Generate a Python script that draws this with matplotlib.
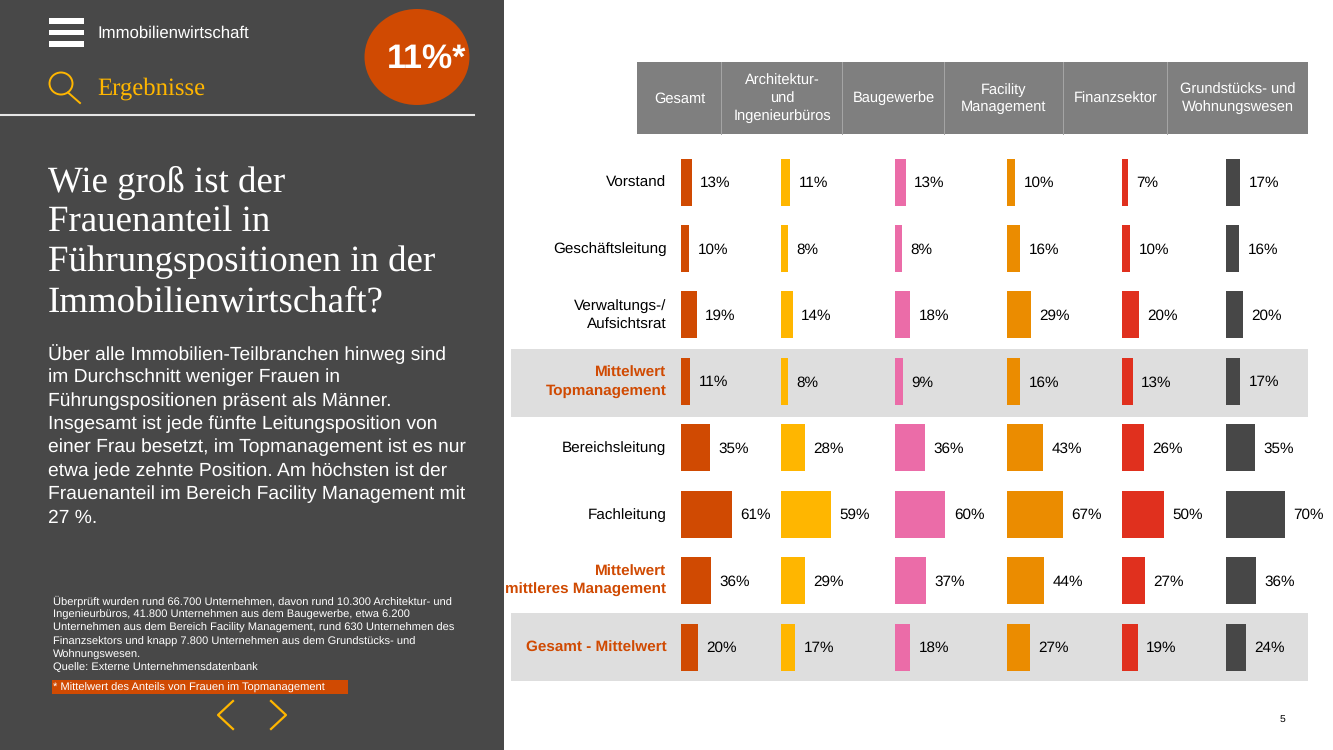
import matplotlib
matplotlib.use("Agg")
import matplotlib.pyplot as plt
from matplotlib.patches import Ellipse, Rectangle

plt.rcParams["font.family"] = ["Liberation Sans", "DejaVu Sans"]
plt.rcParams["text.hinting"] = "none"

W, H = 1333, 750

columns = ["Gesamt", "Architektur-\nund\nIngenieurbüros", "Baugewerbe",
           "Facility\nManagement", "Finanzsektor", "Grundstücks- und\nWohnungswesen"]
rows = ["Vorstand", "Geschäftsleitung", "Verwaltungs-/\nAufsichtsrat", "Mittelwert\nTopmanagement",
        "Bereichsleitung", "Fachleitung", "Mittelwert\nmittleres Management", "Gesamt - Mittelwert"]
mean_rows = [3, 6, 7]

gesamt = [13, 10, 19, 11, 35, 61, 36, 20]
architektur = [11, 8, 14, 8, 28, 59, 29, 17]
baugewerbe = [13, 8, 18, 9, 36, 60, 37, 18]
facility = [10, 16, 29, 16, 43, 67, 44, 27]
finanz = [7, 10, 20, 13, 26, 50, 27, 19]
grundstueck = [17, 16, 20, 17, 35, 70, 36, 24]
series = [gesamt, architektur, baugewerbe, facility, finanz, grundstueck]
colors = ["#d04a02", "#ffb600", "#eb6ca8", "#eb8c00", "#e0301e", "#474747"]

heading = ["Wie groß ist der", "Frauenanteil in", "Führungspositionen in der", "Immobilienwirtschaft?"]
body = ["Über alle Immobilien-Teilbranchen hinweg sind", "im Durchschnitt weniger Frauen in",
        "Führungspositionen präsent als Männer.", "Insgesamt ist jede fünfte Leitungsposition von",
        "einer Frau besetzt, im Topmanagement ist es nur", "etwa jede zehnte Position. Am höchsten ist der",
        "Frauenanteil im Bereich Facility Management mit", "27 %."]
notes = ["Überprüft wurden rund 66.700 Unternehmen, davon rund 10.300 Architektur- und",
         "Ingenieurbüros, 41.800 Unternehmen aus dem Baugewerbe, etwa 6.200",
         "Unternehmen aus dem Bereich Facility Management, rund 630 Unternehmen des",
         "Finanzsektors und knapp 7.800 Unternehmen aus dem Grundstücks- und",
         "Wohnungswesen.", "Quelle: Externe Unternehmensdatenbank"]

fig = plt.figure(figsize=(W / 100, H / 100), dpi=100, facecolor="white")

# page layer in pixel coordinates
bg = fig.add_axes([0, 0, 1, 1])
bg.set_xlim(0, W)
bg.set_ylim(H, 0)
bg.axis("off")

bg.add_patch(Rectangle((0, 0), 504, H, color="#484848", lw=0))
for y in (18, 29.5, 41):
    bg.add_patch(Rectangle((49, y), 35, 5.5, color="white", lw=0))
bg.text(97, 33, "Immobilienwirtschaft", color="white", fontsize=12.1, va="center")
bg.add_patch(Ellipse((61, 83.5), 23, 22, fill=False, ec="#ffb600", lw=1.4))
bg.plot([68, 80], [92.5, 103], color="#ffb600", lw=1.4)
bg.text(97, 88.5, "Ergebnisse", color="#ffb600", fontsize=17.8, va="center", family="Liberation Serif")
bg.plot([0, 474], [115, 115], color="#e6e6e6", lw=1.5)
bg.add_patch(Ellipse((417, 57), 105, 96, color="#d04a02", lw=0))
bg.text(427, 58.5, "11%*", color="white", fontsize=24.5, weight="bold", ha="center", va="center")

for i, line in enumerate(heading):
    bg.text(48, 182.5 + i * 40, line, color="white", fontsize=26.6, family="Liberation Serif", va="center")
for i, line in enumerate(body):
    bg.text(48, 354 + i * 23.4, line, color="white", fontsize=13.9, va="center")
for i, line in enumerate(notes):
    bg.text(53, 601 + i * 13.5, line, color="white", fontsize=8, va="center")
bg.add_patch(Rectangle((52, 680), 296, 13.5, color="#d04a02", lw=0))
bg.text(53, 687.5, "* Mittelwert des Anteils von Frauen im Topmanagement", color="white",
        fontsize=8, va="center")
bg.plot([233, 218, 233], [701, 715, 729], color="#ffb600", lw=1.6)
bg.plot([271, 286, 271], [701, 715, 729], color="#ffb600", lw=1.6)

# table header
bg.add_patch(Rectangle((637, 62), 671, 72, color="#7f7f7f", lw=0))
edges = [637, 721, 842, 944, 1063, 1167, 1308]
for x in edges[1:-1]:
    bg.plot([x, x], [62, 134], color="#a6a6a6", lw=0.7)
for i, name in enumerate(columns):
    bg.text((edges[i] + edges[i + 1]) / 2 + 0.5, 98.5, name, color="white", fontsize=10.5,
            ha="center", va="center", linespacing=1.3)

# highlight bands behind the mean rows
bg.add_patch(Rectangle((511, 349), 797, 68, color="#dedede", lw=0))
bg.add_patch(Rectangle((511, 613), 797, 68, color="#dedede", lw=0))

row_top, row_pitch = 149, 66.4
for i, name in enumerate(rows):
    is_mean = i in mean_rows
    bg.text(666.5, row_top + row_pitch * (i + 0.5) + 0.5, name, ha="right", va="center", fontsize=11,
            color="#d04a02" if is_mean else "black", weight="bold" if is_mean else "normal",
            linespacing=1.38)

bg.text(1282, 719, "5", fontsize=7.5, ha="center", va="center", color="black")

# one small bar panel per column; 100 % corresponds to 84 px
col_left = [681, 781, 895, 1007, 1122, 1226]
for left, vals, color in zip(col_left, series, colors):
    ax = fig.add_axes([left / W, 1 - (row_top + row_pitch * len(rows)) / H,
                       84 / W, row_pitch * len(rows) / H])
    ax.set_xlim(0, 100)
    ax.set_ylim(len(rows) - 0.5, -0.5)
    ax.axis("off")
    bars = ax.barh(range(len(vals)), vals, height=47 / row_pitch, color=color, lw=0)
    for bar, v in zip(bars, vals):
        ax.annotate(f"{v}%", (v, bar.get_y() + bar.get_height() / 2), xytext=(6, -0.8),
                    textcoords="offset points", va="center", ha="left", fontsize=11,
                    color="black", annotation_clip=False)

fig.savefig("out.png", dpi=100)
